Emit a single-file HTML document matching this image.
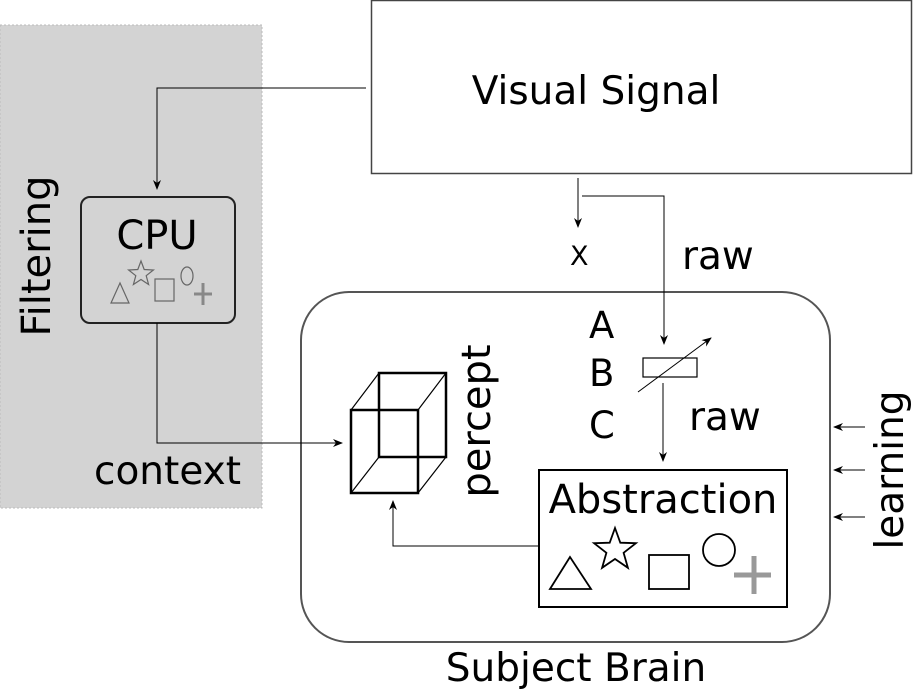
<!DOCTYPE html>
<html><head><style>body{margin:0;background:#fff}svg{display:block}text{font-family:"DejaVu Sans","Liberation Sans",sans-serif;fill:#000}</style></head><body>
<svg width="913" height="691" viewBox="0 0 913 691" xmlns="http://www.w3.org/2000/svg">
<defs><marker id="a" markerWidth="10" markerHeight="8" refX="9" refY="4" orient="auto" markerUnits="userSpaceOnUse"><path d="M0,0 L10,4 L0,8 L3,4 Z" fill="#000"/></marker></defs>
<rect x="0" y="25" width="262" height="483" fill="#d3d3d3" stroke="#bbb" stroke-dasharray="2,2"/>
<text transform="translate(50,256) rotate(-90)" font-size="40" text-anchor="middle">Filtering</text>
<rect x="371.5" y="0.5" width="540" height="173" fill="#fff" stroke="#444" stroke-width="1.5"/>
<text x="596" y="104" font-size="39" text-anchor="middle">Visual Signal</text>
<rect x="81" y="197" width="154" height="126" rx="9" fill="#d3d3d3" stroke="#222" stroke-width="2"/>
<text x="157" y="249" font-size="40" text-anchor="middle">CPU</text>
<g fill="none" stroke="#666" stroke-width="1.2"><path d="M120,283 L111,303 L129,303 Z"/><path d="M141,261 L144.2,269.5 L153.4,270 L146.2,275.7 L148.6,284.5 L141,279.5 L133.4,284.5 L135.8,275.7 L128.6,270 L137.8,269.5 Z"/><rect x="155" y="279" width="19" height="22"/><ellipse cx="187" cy="276" rx="6" ry="9"/></g>
<path d="M203,283 V305 M194,294 H212" stroke="#888" stroke-width="3"/>
<rect x="301" y="292" width="529" height="350" rx="48" fill="#fff" stroke="#555" stroke-width="2"/>
<text x="576" y="681" font-size="39" text-anchor="middle">Subject Brain</text>
<g stroke="#000" stroke-width="1" fill="none">
<path d="M366,88 H157 V189" marker-end="url(#a)"/>
<path d="M157,323 V443 H342" marker-end="url(#a)"/>
<path d="M578,178 V227" marker-end="url(#a)"/>
<path d="M582,196 H664 V344" marker-end="url(#a)"/>
<path d="M663,383 V461" marker-end="url(#a)"/>
<path d="M539,546 H393 V501" marker-end="url(#a)"/>
<path d="M638,392 L711,338" marker-end="url(#a)"/>
<path d="M865,427 H834" marker-end="url(#a)"/>
<path d="M865,470 H834" marker-end="url(#a)"/>
<path d="M865,517 H834" marker-end="url(#a)"/>
</g>
<text x="570" y="265" font-size="27">X</text>
<text x="682" y="269" font-size="39">raw</text>
<text x="589" y="338" font-size="37">A</text>
<text x="589" y="386" font-size="37">B</text>
<text x="589" y="438" font-size="37">C</text>
<text x="689" y="430" font-size="39">raw</text>
<rect x="643" y="358" width="54" height="19" fill="none" stroke="#000" stroke-width="1.2"/>
<g stroke="#000" fill="none">
<rect x="351" y="410" width="67" height="83" stroke-width="2.5"/>
<rect x="379" y="373" width="67" height="84" stroke-width="2.5"/>
<path d="M351,410 L379,373 M418,410 L446,373 M351,493 L379,457 M418,493 L446,457" stroke-width="1.2"/>
</g>
<text transform="translate(490,421) rotate(-90)" font-size="40" text-anchor="middle">percept</text>
<text x="94" y="484" font-size="39">context</text>
<text transform="translate(903,470) rotate(-90)" font-size="39" text-anchor="middle">learning</text>
<rect x="539" y="470" width="248" height="137" fill="#fff" stroke="#000" stroke-width="2"/>
<text x="663" y="513" font-size="40" text-anchor="middle">Abstraction</text>
<g fill="none" stroke="#000" stroke-width="1.8"><path d="M570,557 L550,589 L591,589 Z"/><path d="M615,528 L620.3,542.7 L635.9,543.2 L623.6,552.8 L627.9,567.8 L615,559 L602.1,567.8 L606.4,552.8 L594.1,543.2 L609.7,542.7 Z"/><rect x="649" y="555" width="40" height="34"/><circle cx="719" cy="550" r="16"/></g>
<path d="M754,556 V594 M734,575 H771" stroke="#999" stroke-width="5"/>
</svg>
</body></html>
